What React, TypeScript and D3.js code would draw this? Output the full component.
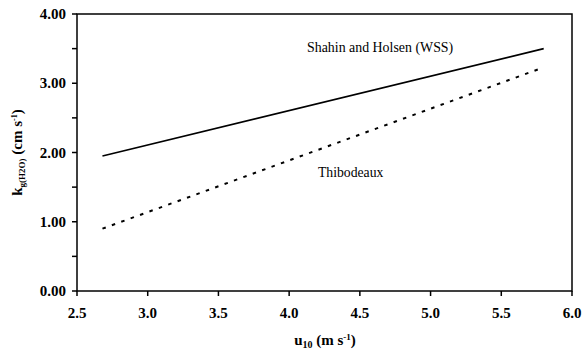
import React, { useEffect, useRef } from 'react';
import * as d3 from 'd3';

// data
const windSpeed = [2.68, 5.8];                 // u10 (m s-1), ends of both lines
const shahinHolsen = [1.95, 3.5];              // WSS, solid
const thibodeaux = [0.9, 3.23];                // dashed
const xTicks = [2.5, 3.0, 3.5, 4.0, 4.5, 5.0, 5.5, 6.0];
const yTicks = [0, 0.5, 1, 1.5, 2, 2.5, 3, 3.5, 4];
const yLabels = [0, 1, 2, 3, 4];

export default function App() {
  const ref = useRef<SVGSVGElement>(null);

  useEffect(() => {
    const svg = d3.select(ref.current);
    svg.selectAll('*').remove();

    const width = 583;
    const height = 355;
    const padding = { top: 14, right: 11, bottom: 64, left: 77 };
    const font = "'Liberation Serif', 'DejaVu Serif', serif";

    const xScale = d3.scaleLinear()
      .domain([2.5, 6.0])
      .range([padding.left, width - padding.right]);
    const yScale = d3.scaleLinear()
      .domain([0, 4])
      .range([height - padding.bottom, padding.top]);

    const x0 = xScale(2.5), x1 = xScale(6.0);
    const y0 = yScale(0), y1 = yScale(4);

    // frame
    svg.append('rect')
      .attr('x', x0).attr('y', y1)
      .attr('width', x1 - x0).attr('height', y0 - y1)
      .attr('fill', 'none').attr('stroke', '#000').attr('stroke-width', 1.5);

    // x ticks
    svg.append('g').selectAll('line')
      .data(xTicks).enter().append('line')
      .attr('x1', d => xScale(d)).attr('x2', d => xScale(d))
      .attr('y1', y0).attr('y2', y0 + 5)
      .attr('stroke', '#000').attr('stroke-width', 1.5);
    svg.append('g').selectAll('text')
      .data(xTicks).enter().append('text')
      .attr('x', d => xScale(d)).attr('y', y0 + 27)
      .attr('text-anchor', 'middle')
      .style('font-family', font).style('font-weight', 'bold').style('font-size', '15px')
      .text(d => d.toFixed(1));

    // y ticks
    svg.append('g').selectAll('line')
      .data(yTicks).enter().append('line')
      .attr('x1', x0 - 5).attr('x2', x0)
      .attr('y1', d => yScale(d)).attr('y2', d => yScale(d))
      .attr('stroke', '#000').attr('stroke-width', 1.5);
    svg.append('g').selectAll('text')
      .data(yLabels).enter().append('text')
      .attr('x', x0 - 11).attr('y', d => yScale(d) + 5)
      .attr('text-anchor', 'end')
      .style('font-family', font).style('font-weight', 'bold').style('font-size', '15px')
      .text(d => d.toFixed(2));

    // lines
    const line = d3.line<[number, number]>()
      .x(d => xScale(d[0]))
      .y(d => yScale(d[1]));

    const solid = windSpeed.map((u, i) => [u, shahinHolsen[i]] as [number, number]);
    const dashed = windSpeed.map((u, i) => [u, thibodeaux[i]] as [number, number]);

    svg.append('path')
      .attr('d', line(solid))
      .attr('fill', 'none').attr('stroke', '#000').attr('stroke-width', 1.6);
    svg.append('path')
      .attr('d', line(dashed))
      .attr('fill', 'none').attr('stroke', '#000').attr('stroke-width', 2)
      .attr('stroke-dasharray', '3.5,6.5');

    // annotations
    svg.append('text')
      .attr('x', 307).attr('y', 52)
      .style('font-family', font).style('font-size', '13.9px')
      .text('Shahin and Holsen (WSS)');
    svg.append('text')
      .attr('x', 318).attr('y', 177)
      .style('font-family', font).style('font-size', '13.7px')
      .text('Thibodeaux');

    // x title
    const xt = svg.append('text')
      .attr('x', 325).attr('y', 345)
      .attr('text-anchor', 'middle')
      .style('font-family', font).style('font-weight', 'bold').style('font-size', '15px');
    xt.append('tspan').text('u');
    xt.append('tspan').style('font-size', '10px').attr('dy', 3).text('10');
    xt.append('tspan').attr('dy', -3).text(' (m s');
    xt.append('tspan').style('font-size', '9px').attr('dy', -5).text('-1');
    xt.append('tspan').attr('dy', 5).text(')');

    // y title
    const yt = svg.append('text')
      .attr('transform', 'translate(22,' + ((y0 + y1) / 2) + ') rotate(-90)')
      .attr('text-anchor', 'middle')
      .style('font-family', font).style('font-weight', 'bold').style('font-size', '15px');
    yt.append('tspan').text('k');
    yt.append('tspan').style('font-size', '9px').attr('dy', 3).text('g(H2O)');
    yt.append('tspan').attr('dy', -3).text(' (cm s');
    yt.append('tspan').style('font-size', '8px').attr('dy', -5).text('-1');
    yt.append('tspan').attr('dy', 5).text(')');
  }, []);

  return (
    <svg ref={ref} width={583} height={355}
      style={{ position: 'absolute', left: 0, top: 0, background: '#fff' }} />
  );
}
